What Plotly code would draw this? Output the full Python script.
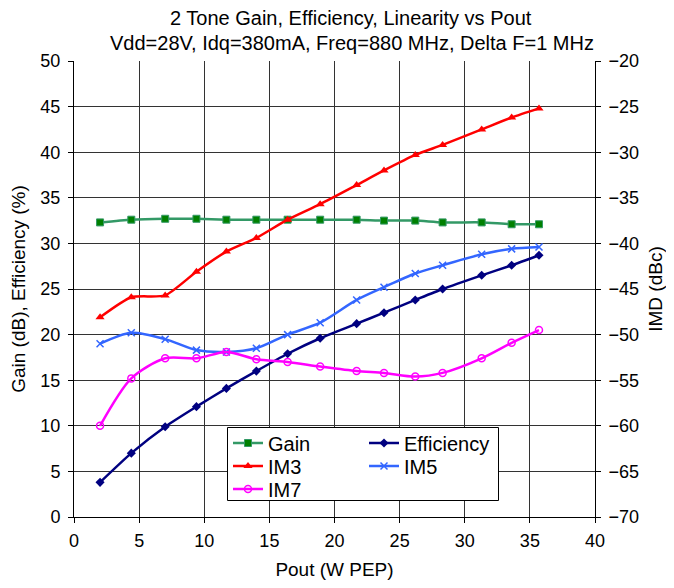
import plotly.graph_objects as go

pout = [2.0, 4.4, 7.0, 9.4, 11.7, 14.0, 16.4, 18.9, 21.7, 23.8, 26.2, 28.3, 31.3, 33.6, 35.7]
gain = [32.3, 32.6, 32.7, 32.7, 32.6, 32.6, 32.6, 32.6, 32.6, 32.5, 32.5, 32.3, 32.3, 32.1, 32.1]
efficiency = [3.8, 7.0, 9.9, 12.1, 14.1, 16.0, 17.9, 19.6, 21.2, 22.4, 23.8, 25.0, 26.5, 27.6, 28.7]
im3 = [-48.1, -45.9, -45.7, -43.1, -40.9, -39.4, -37.4, -35.7, -33.6, -32.0, -30.3, -29.2, -27.5, -26.2, -25.2]
im5 = [-51.0, -49.8, -50.5, -51.7, -51.9, -51.5, -50.0, -48.7, -46.2, -44.8, -43.3, -42.4, -41.2, -40.6, -40.4]
im7 = [-60.0, -54.8, -52.6, -52.6, -51.9, -52.7, -53.0, -53.5, -54.0, -54.2, -54.6, -54.2, -52.6, -50.9, -49.5]

title_lines = ["2 Tone Gain, Efficiency, Linearity vs Pout",
               "Vdd=28V, Idq=380mA, Freq=880 MHz, Delta F=1 MHz"]

FONT = "Arial, Liberation Sans, sans-serif"
# page is 674x588, the html body adds an 8px margin around the figure
OFF = 8
W, H = 674 - 2 * OFF, 588 - 2 * OFF
PL, PR, PT, PB = 74, 595, 61, 517          # plot area in page pixels
L, T = PL - OFF, PT - OFF
R, B = W - (PR - OFF), H - (PB - OFF)
PW, PH = PR - PL, PB - PT


def px_x(px):
    return (px - PL) / PW


def px_y(py):
    return (PB - py) / PH


fig = go.Figure()
fig.add_trace(go.Scatter(x=pout, y=gain, name="Gain", mode="lines+markers", legend="legend",
                         line=dict(color="#339966", width=2.5, shape="spline", smoothing=0.6),
                         marker=dict(symbol="square", size=7, color="#008000", line=dict(color="#339966", width=1))))
fig.add_trace(go.Scatter(x=pout, y=efficiency, name="Efficiency", mode="lines+markers", legend="legend2",
                         line=dict(color="#000080", width=2.5, shape="spline", smoothing=0.6),
                         marker=dict(symbol="diamond", size=7, color="#000080")))
fig.add_trace(go.Scatter(x=pout, y=im3, name="IM3", mode="lines+markers", yaxis="y2", legend="legend3",
                         line=dict(color="#FF0000", width=2.5, shape="spline", smoothing=0.6),
                         marker=dict(symbol="triangle-up", size=8, color="#FF0000")))
fig.add_trace(go.Scatter(x=pout, y=im5, name="IM5", mode="lines+markers", yaxis="y2", legend="legend4",
                         line=dict(color="#3366FF", width=2.5, shape="spline", smoothing=0.8),
                         marker=dict(symbol="x-thin-open", size=7, color="#3366FF", line=dict(color="#3366FF", width=1.5))))
fig.add_trace(go.Scatter(x=pout, y=im7, name="IM7", mode="lines+markers", yaxis="y2", legend="legend5",
                         line=dict(color="#FF00FF", width=2.5, shape="spline", smoothing=0.8),
                         marker=dict(symbol="circle-open", size=7, color="#FF00FF", line=dict(width=1.5))))

axis_common = dict(showline=True, linecolor="black", linewidth=1, ticks="outside", ticklen=5,
                   tickcolor="black", zeroline=False, automargin=False, tickfont=dict(size=18))


def leg(xp, yp):
    return dict(x=px_x(xp), y=px_y(yp), xanchor="left", yanchor="top",
                bgcolor="rgba(0,0,0,0)", borderwidth=0, font=dict(size=20), tracegroupgap=0)


fig.update_layout(
    width=W, height=H,
    margin=dict(l=L, r=R, t=T, b=B),
    paper_bgcolor="white", plot_bgcolor="white",
    font=dict(family=FONT, size=18, color="black"),
    xaxis=dict(range=[0, 40], dtick=5, showgrid=True, gridcolor="#333333", gridwidth=1,
               ticklabelstandoff=2,
               title=dict(text="Pout (W PEP)", font=dict(size=19), standoff=16), **axis_common),
    yaxis=dict(range=[0, 50], dtick=5, showgrid=True, gridcolor="#333333", gridwidth=1,
               ticklabelstandoff=4,
               title=dict(text="Gain (dB), Efficiency (%)", font=dict(size=19)), **axis_common),
    yaxis2=dict(range=[-70, -20], dtick=5, overlaying="y", side="right", showgrid=False,
                ticklabelstandoff=4,
                title=dict(text="IMD (dBc)", font=dict(size=19)), **axis_common),
    legend=leg(228, 423.5),
    legend2=leg(364, 423.5),
    legend3=leg(228, 446.5),
    legend4=leg(364, 446.5),
    legend5=leg(228, 469.5),
    shapes=[dict(type="rect", xref="paper", yref="paper",
                 x0=px_x(227.5), x1=px_x(498.5), y0=px_y(500.5), y1=px_y(427.5),
                 fillcolor="white", line=dict(color="black", width=1), layer="above")],
    annotations=[
        dict(text=title_lines[0], xref="paper", yref="paper", x=px_x(351), y=px_y(18),
             xanchor="center", yanchor="middle", showarrow=False,
             font=dict(family=FONT, size=20, color="black")),
        dict(text=title_lines[1], xref="paper", yref="paper", x=px_x(352), y=px_y(43),
             xanchor="center", yanchor="middle", showarrow=False,
             font=dict(family=FONT, size=20, color="black")),
    ],
    showlegend=True,
)

fig.write_html("out.html")
